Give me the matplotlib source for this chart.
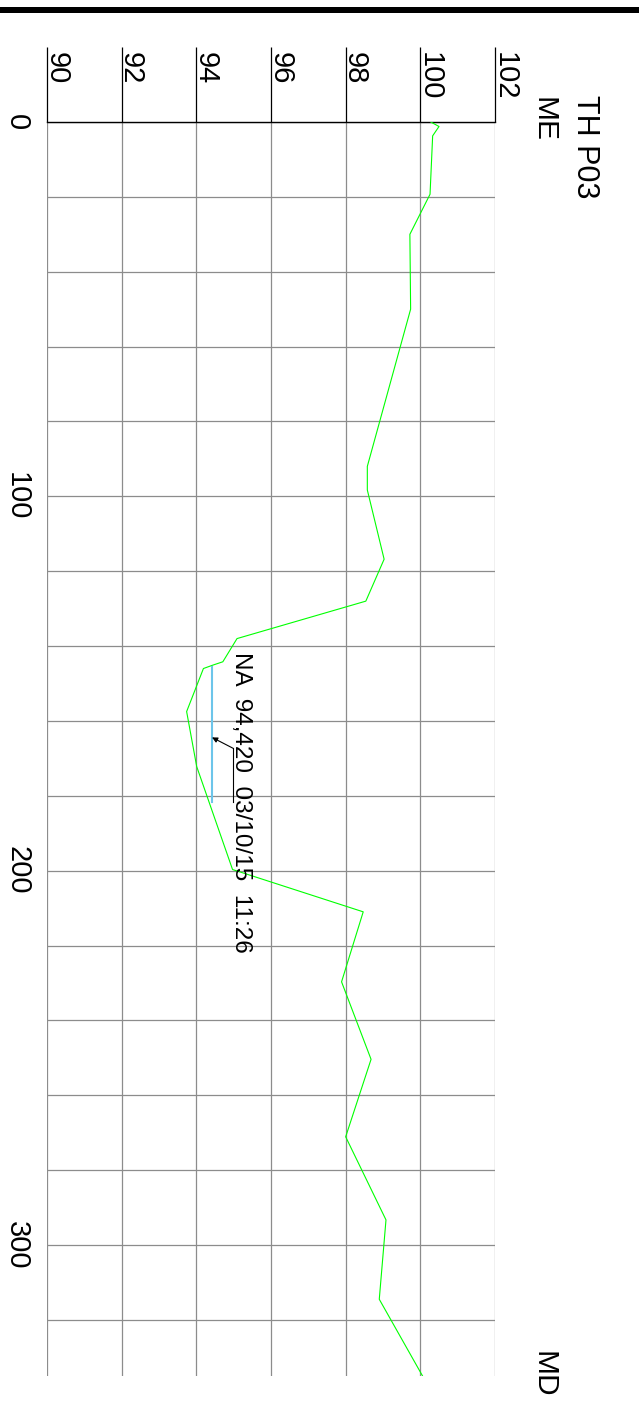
import matplotlib
matplotlib.use("Agg")
import matplotlib.pyplot as plt
from matplotlib.patches import Rectangle
from matplotlib.ticker import FixedLocator, FuncFormatter

plt.rcParams['font.family'] = ['Liberation Sans', 'DejaVu Sans']

# Measured profile: value (ME) against measured depth (MD)
me_values = [100.28, 100.50, 100.33, 100.26, 99.72, 99.74, 98.58, 98.58,
             99.03, 98.54, 95.09, 94.71, 94.44, 94.19, 93.74, 94.01,
             94.97, 98.47, 97.89, 98.68, 98.00, 99.08, 98.90, 100.06]
md_values = [0.0, 1.2, 3.7, 19.3, 30.0, 50.0, 92.0, 98.3,
             116.8, 128.0, 138.0, 144.2, 145.1, 146.0, 157.5, 172.2,
             199.7, 211.0, 229.7, 250.4, 271.1, 293.3, 314.5, 335.0]

# Averaged interval marker
avg_value = 94.420
avg_md_top = 145.5
avg_md_bottom = 181.6
avg_date = "03/10/15"
avg_time = "11:26"

value_ticks = [90, 92, 94, 96, 98, 100, 102]
value_labels = ["90", "92", "94", "96", "98", "100", "102"]
md_grid = list(range(0, 321, 20))
md_labelled = [0, 100, 200, 300]

W, H = 639, 1406
fig = plt.figure(figsize=(W / 100, H / 100), dpi=100)

# heavy rule across the top of the sheet
fig.patches.append(Rectangle((0, 1 - 13 / H), 1, 5.5 / H, transform=fig.transFigure,
                             facecolor='black', edgecolor='none'))

ax = fig.add_axes([47 / W, 1 - 1376 / H, 448 / W, (1376 - 122) / H])
ax.set_xlim(value_ticks[0], value_ticks[-1])
ax.set_ylim(335, 0)

for side in ('left', 'right', 'bottom'):
    ax.spines[side].set_visible(False)
ax.spines['top'].set_color('black')
ax.spines['top'].set_linewidth(1.0)

ax.set_axisbelow(True)
ax.xaxis.set_major_locator(FixedLocator(value_ticks))
ax.yaxis.set_major_locator(FixedLocator(md_grid))
ax.yaxis.set_major_formatter(FuncFormatter(
    lambda v, pos: f"{int(round(v))}" if int(round(v)) in md_labelled else ""))
ax.grid(True, color='#8c8c8c', linewidth=0.9)

ax.xaxis.tick_top()
ax.tick_params(axis='x', which='major', top=True, bottom=False, labeltop=False,
               labelbottom=False, direction='out', length=54, width=0.9,
               color='black')
ax.tick_params(axis='y', which='major', left=True, right=False, length=0,
               pad=11.5, labelsize=21, labelrotation=-90)
for lbl in ax.get_yticklabels():
    lbl.set_va('center')

# value labels hanging beside the tick lines
for v, lab in zip(value_ticks, value_labels):
    ax.annotate(lab, xy=(v, 0), xycoords='data', xytext=(-3.4, 50.4),
                textcoords='offset points', rotation=-90, ha='left', va='top',
                fontsize=21, annotation_clip=False)

# profile curve
ax.plot(me_values, md_values, color='#00ff00', linewidth=0.8, zorder=3)

# averaged interval
ax.plot([avg_value, avg_value], [avg_md_top, avg_md_bottom],
        color='#6cc5ea', linewidth=1.5, zorder=4)

label = f"NA  {avg_value:.3f}".replace('.', ',') + f"  {avg_date}  {avg_time}"
ax.annotate(label, xy=(avg_value, avg_md_top), xycoords='data',
            xytext=(13.0, 10.6), textcoords='offset points', rotation=-90,
            ha='left', va='top', fontsize=17.5, zorder=5)

# leader: underline under the label, then an arrow onto the marker
leader_x = avg_value + 0.5625
leader_top = 167.3
arrow_md = 164.4
ax.plot([leader_x, leader_x], [leader_top, avg_md_bottom], color='black',
        linewidth=0.8, zorder=5)
ax.annotate('', xy=(avg_value, arrow_md), xytext=(leader_x, leader_top),
            arrowprops=dict(arrowstyle='-|>', color='black', lw=0.8,
                            mutation_scale=8, shrinkA=0, shrinkB=0), zorder=5)

# header and axis captions
fig.text(600 / W, 1 - 95 / H, "TH P03", rotation=-90, ha='right', va='top',
         fontsize=22)
fig.text(557 / W, 1 - 97 / H, "ME", rotation=-90, ha='right', va='top',
         fontsize=21.5)
fig.text(557 / W, 1 - 1351 / H, "MD", rotation=-90, ha='right', va='top',
         fontsize=21.5)

fig.savefig("out.png", dpi=100)
